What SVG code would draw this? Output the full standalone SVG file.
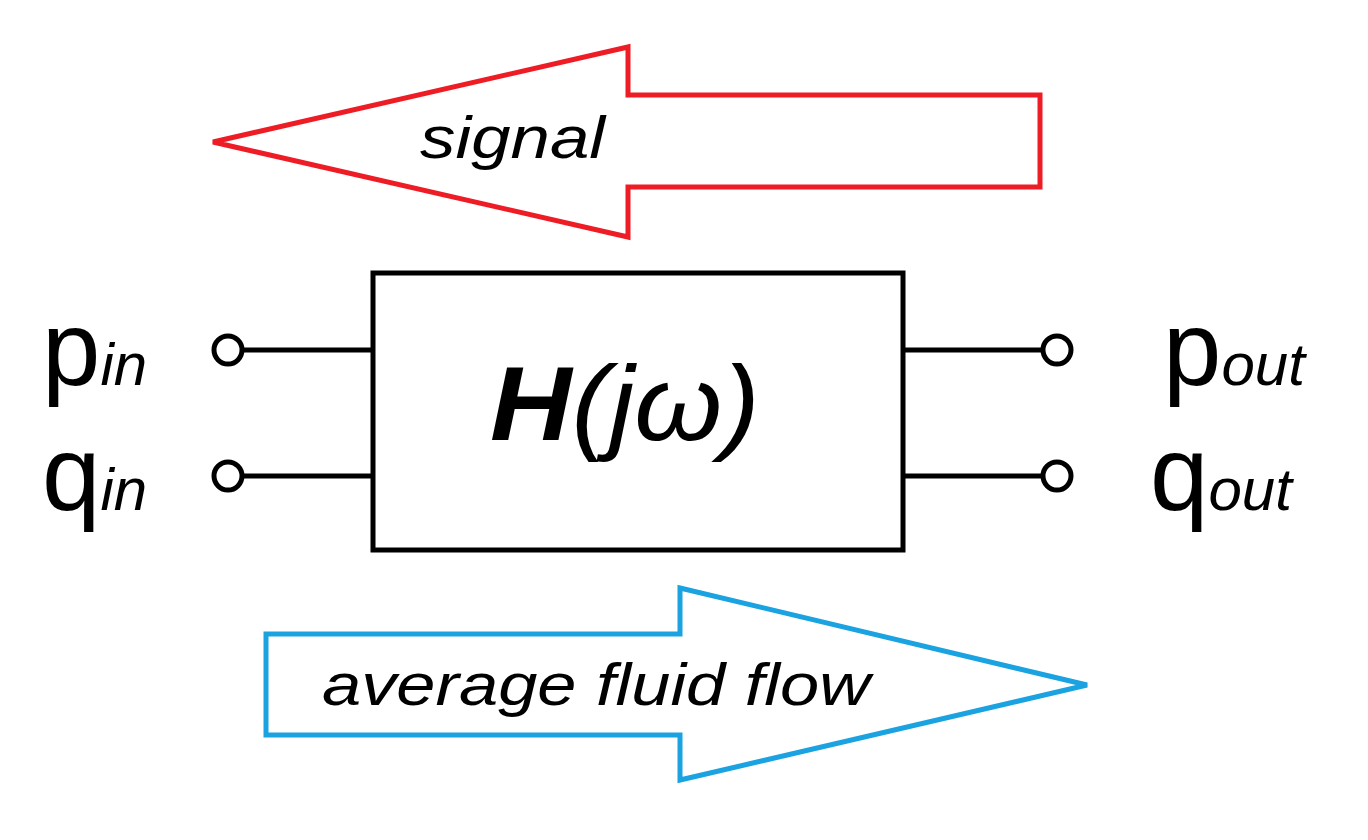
<svg xmlns="http://www.w3.org/2000/svg" width="1368" height="840" viewBox="0 0 1368 840">
<style>
.t{font-family:"Liberation Sans",Arial,sans-serif;fill:#000}
.w{stroke:#000;stroke-width:5;fill:none}
.c{stroke:#000;stroke-width:5;fill:#fff}
</style>
<rect width="1368" height="840" fill="#fff"/>
<g id="signal">
<polygon points="213,142 628,47 628,95 1040,95 1040,187 628,187 628,237" fill="none" stroke="#ee1c25" stroke-width="5"/>
<text class="t" x="420" y="158" font-size="60" font-style="italic" textLength="185" lengthAdjust="spacingAndGlyphs">signal</text>
</g>
<g id="flow">
<polygon points="266,634 680,634 680,588 1087,685 680,780 680,735 266,735" fill="none" stroke="#1aa3e0" stroke-width="5"/>
<text class="t" x="322" y="705" font-size="60" font-style="italic" textLength="548" lengthAdjust="spacingAndGlyphs">average fluid flow</text>
</g>
<g id="connectors">
<line class="w" x1="242" y1="350" x2="373" y2="350"/>
<line class="w" x1="242" y1="476" x2="373" y2="476"/>
<line class="w" x1="903" y1="350" x2="1043" y2="350"/>
<line class="w" x1="903" y1="476" x2="1043" y2="476"/>
</g>
<g id="block">
<rect class="w" x="373" y="273" width="530" height="277"/>
<text class="t" x="490" y="440" font-size="105" font-weight="bold" font-style="italic" textLength="270" lengthAdjust="spacingAndGlyphs">H<tspan font-weight="normal">(jω)</tspan></text>
</g>
<g id="ports">
<circle class="c" cx="228" cy="350" r="14"/>
<circle class="c" cx="228" cy="476" r="14"/>
<circle class="c" cx="1057" cy="350" r="14"/>
<circle class="c" cx="1057" cy="476" r="14"/>
<text class="t" x="42" y="385" font-size="105">p<tspan font-size="60" font-style="italic">in</tspan></text>
<text class="t" x="42" y="510" font-size="105">q<tspan font-size="60" font-style="italic">in</tspan></text>
<text class="t" x="1163" y="385" font-size="105">p<tspan font-size="60" font-style="italic">out</tspan></text>
<text class="t" x="1150" y="510" font-size="105">q<tspan font-size="60" font-style="italic">out</tspan></text>
</g>
</svg>
